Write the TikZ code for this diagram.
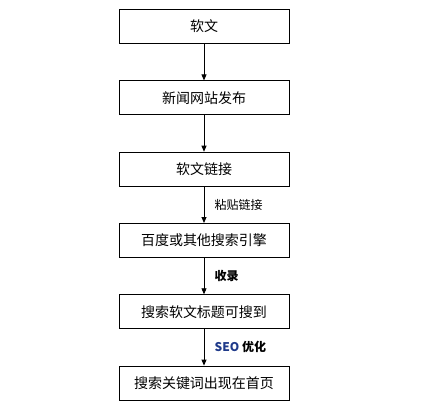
\documentclass[tikz,border=0pt]{standalone}
\usepackage{fontspec}
\newfontfamily\cjk{Noto Sans CJK SC}
\usepackage{tikz}
\usetikzlibrary{arrows.meta, positioning}
\definecolor{seoblue}{HTML}{1F3A8A}

\begin{document}
\begin{tikzpicture}[x=1pt, y=1pt, node distance=36.5pt,
  box/.style={draw=black, line width=0.8pt, fill=white,
    minimum width=170pt, minimum height=34pt, align=center, font=\cjk\fontsize{14pt}{16pt}\selectfont},
  arrow/.style={-{Triangle[length=6pt, width=5pt]}, line width=0.8pt, draw=black},
  tag/.style={right=7pt, font=\cjk\fontsize{12pt}{14pt}\selectfont}]
  \useasboundingbox (0,0) rectangle (432,-415);
  \node[box] (soft) at (204,-26.5) {软文};
  \node[box, below=of soft] (news) {新闻网站发布};
  \node[box, below=of news] (link) {软文链接};
  \node[box, below=of link] (engine) {百度或其他搜索引擎};
  \node[box, below=of engine] (title) {搜索软文标题可搜到};
  \node[box, below=of title] (home) {搜索关键词出现在首页};
  \draw[arrow] (soft) -- (news);
  \draw[arrow] (news) -- (link);
  \draw[arrow] (link) -- node[tag, midway] {粘贴链接} (engine);
  \draw[arrow] (engine) -- node[tag, midway] {\bfseries 收录} (title);
  \draw[arrow] (title) -- node[tag, midway] {\bfseries\textcolor{seoblue}{SEO} 优化} (home);
\end{tikzpicture}
\end{document}
